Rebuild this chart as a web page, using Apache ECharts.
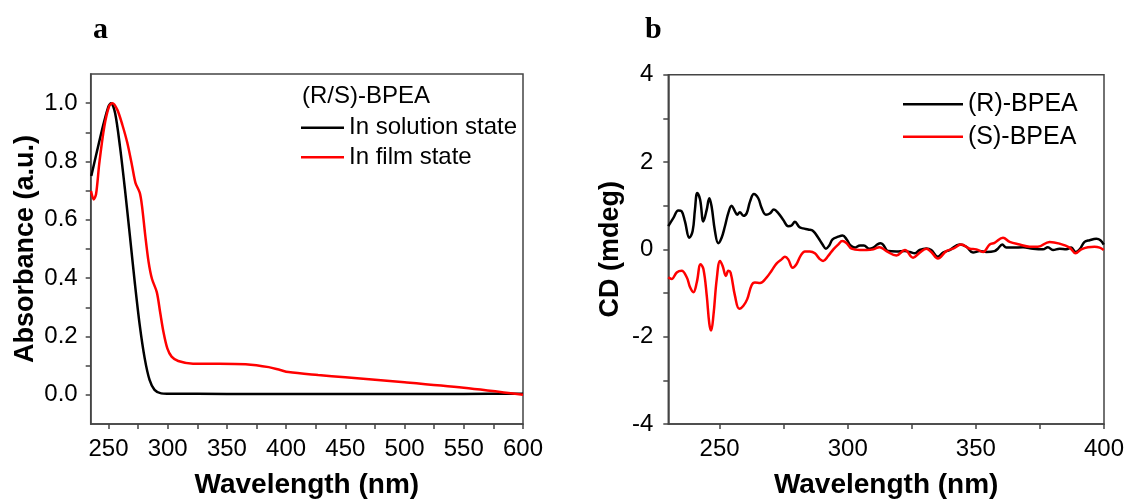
<!DOCTYPE html>
<html>
<head>
<meta charset="utf-8">
<script src="https://cdn.jsdelivr.net/npm/echarts@6/dist/echarts.min.js"></script>
<style>
html,body{margin:0;padding:0;background:#fff;}
#chart{width:1132px;height:504px;}
</style>
</head>
<body>
<div id="chart"></div>
<script>
// ---------- Panel a: absorbance ----------
var aSolX = [235.5,240.3,245.9,250.1,252.2,255.6,259.7,263.9,268.1,272.2,276.4,280.6,284.7,288.9,294.5,300,350,400,450,500,550,600];
var aSolY = [0.75,0.835,0.93,0.99,1.0,0.966,0.852,0.705,0.545,0.386,0.239,0.125,0.051,0.017,0.005,0.004,0.003,0.003,0.003,0.003,0.003,0.004];
var aFilmX = [235.3,237.5,239.5,242.3,246.5,250.6,253.4,257.5,261.7,265.9,270,272.8,276.4,278.3,281.1,283.9,286.7,290.8,293.6,296.4,299.7,303.3,308.9,321.4,343.6,365.8,385.3,395,402,427,450,500,550,600];
var aFilmY = [0.699,0.67,0.6875,0.795,0.92,0.99,1.0,0.977,0.926,0.864,0.784,0.727,0.693,0.648,0.545,0.455,0.398,0.352,0.284,0.216,0.159,0.131,0.116,0.107,0.107,0.105,0.095,0.085,0.078,0.068,0.060,0.043,0.024,0.0];
var aXLabels = [250,300,350,400,450,500,550,600];
var aXTicks = [250,275,300,325,350,375,400,425,450,475,500,525,550,575,600];
var aYLabels = [0,0.2,0.4,0.6,0.8,1.0];
var aYTicks = [0,0.1,0.2,0.3,0.4,0.5,0.6,0.7,0.8,0.9,1.0];

// ---------- Panel b: CD ----------
var bRX = [230.0,232.0,233.9,235.2,236.5,238.2,239.5,240.4,241.3,242.4,243.7,245.0,246.0,246.9,248.2,249.5,250.8,252.1,253.4,254.7,256.0,256.9,257.9,259.3,260.6,261.9,263.4,265.1,266.4,268.1,269.6,271.2,272.9,274.8,276.8,278.1,279.4,281.1,282.6,284.6,286.5,288.5,290.2,291.5,292.8,294.1,296.3,298.0,299.6,301.1,302.8,304.8,306.3,308.4,310.0,311.5,312.8,313.8,315.8,319.0,322.3,324.2,326.2,328.1,330.7,332.6,335.2,337.2,339.8,343.7,346.3,348.9,351.5,354.1,357.3,358.6,360.3,361.9,364.5,368.4,372.3,376.2,378.1,380.1,382.7,385.3,387.2,388.9,390.5,392.4,394.4,397.0,398.6,399.9];
var bRY = [0.53,0.72,0.89,0.87,0.64,0.265,0.42,0.91,1.29,1.14,0.64,0.91,1.17,0.98,0.42,0.14,0.265,0.53,0.83,1.0,0.87,0.795,0.85,0.77,0.83,1.1,1.27,1.17,0.95,0.795,0.82,0.91,0.83,0.68,0.53,0.545,0.63,0.51,0.48,0.455,0.42,0.265,0.11,0.015,0.09,0.227,0.29,0.32,0.227,0.09,0.04,0.09,0.09,0.015,0.04,0.11,0.14,0.11,-0.04,-0.05,-0.04,-0.06,-0.09,-0.015,0.02,-0.015,-0.17,-0.075,-0.015,0.11,0.06,-0.075,-0.04,-0.06,-0.04,0.015,0.11,0.04,0.04,0.05,0.015,0.0,0.05,-0.015,0.015,0.0,0.04,-0.06,0.0,0.17,0.21,0.24,0.21,0.11];
var bSX = [230.0,231.3,233.3,235.2,237.2,238.5,239.8,241.1,242.6,243.7,245.0,246.0,246.7,247.6,248.9,250.2,251.2,252.5,253.4,254.3,256.0,257.7,259.3,260.8,262.5,263.8,265.8,268.4,270.3,272.3,274.2,275.5,276.8,278.5,280.0,281.6,283.3,285.2,287.2,288.9,290.4,292.4,294.4,296.3,297.9,299.6,301.5,304.8,307.4,310.0,312.4,315.1,319.0,322.3,325.5,328.1,330.7,332.6,335.2,338.5,341.1,344.3,347.6,350.2,352.8,355.4,357.3,360.6,363.2,367.1,371.0,374.2,378.8,382.7,386.6,388.9,391.1,393.7,396.3,398.3,399.9];
var bSY = [-0.64,-0.68,-0.53,-0.49,-0.64,-0.87,-0.98,-0.76,-0.34,-0.45,-1.06,-1.70,-1.86,-1.52,-0.68,-0.265,-0.38,-0.61,-0.49,-0.53,-1.06,-1.36,-1.29,-1.14,-0.82,-0.76,-0.77,-0.64,-0.49,-0.32,-0.23,-0.17,-0.23,-0.42,-0.34,-0.15,-0.05,-0.05,-0.09,-0.21,-0.265,-0.15,0.0,0.11,0.19,0.14,0.015,-0.015,-0.015,0.0,0.05,-0.04,-0.14,-0.015,-0.19,-0.075,0.015,-0.06,-0.21,-0.04,0.015,0.11,0.015,0.0,-0.06,0.11,0.15,0.265,0.17,0.11,0.06,0.06,0.17,0.13,0.04,-0.09,0.0,0.05,0.06,0.04,-0.015];
var bXLabels = [250,300,350,400];
var bXTicks = [250,275,300,325,350,375,400];
var bYLabels = [-4,-2,0,2,4];
var bYTicks = [-4,-3,-2,-1,0,1,2,3,4];

function zip(xs, ys){ var o=[]; for(var i=0;i<xs.length;i++){o.push([xs[i],ys[i]]);} return o; }

var FONT = "'Liberation Sans', Arial, sans-serif";
var AX = '#444';

function xAxisCfg(idx, min, max, labels, ticks){
  return {
    type:'value', gridIndex: idx, min:min, max:max,
    name:'Wavelength (nm)', nameLocation:'middle', nameGap:47,
    nameTextStyle:{fontFamily:FONT, fontSize:28, fontWeight:'bold', color:'#000'},
    axisLine:{show:true, onZero:false, lineStyle:{color:AX, width:1.5}},
    axisTick:{show:true, inside:false, length:5, customValues:ticks, lineStyle:{color:AX, width:1.5}},
    axisLabel:{show:true, margin:13, customValues:labels, fontFamily:FONT, fontSize:24, color:'#000'},
    splitLine:{show:false}
  };
}
function yAxisCfg(idx, min, max, labels, ticks, name, gap, margin, fmt){
  return {
    type:'value', gridIndex: idx, min:min, max:max,
    name:name, nameLocation:'middle', nameGap:gap,
    nameTextStyle:{fontFamily:FONT, fontSize:27, fontWeight:'bold', color:'#000'},
    axisLine:{show:true, onZero:false, lineStyle:{color:AX, width:1.5}},
    axisTick:{show:true, inside:false, length:5, customValues:ticks, lineStyle:{color:AX, width:1.5}},
    axisLabel:{show:true, margin:margin, customValues:labels, fontFamily:FONT, fontSize:24, color:'#000', formatter:fmt},
    splitLine:{show:false}
  };
}

var option = {
  animation:false,
  backgroundColor:'#fff',
  title:[
    {text:'a', left:93, top:15, padding:0, textStyle:{fontFamily:"'Liberation Serif', 'Times New Roman', serif", fontSize:30, fontWeight:'bold', color:'#000', lineHeight:30}},
    {text:'b', left:645, top:15, padding:0, textStyle:{fontFamily:"'Liberation Serif', 'Times New Roman', serif", fontSize:30, fontWeight:'bold', color:'#000', lineHeight:30}},
    {text:'(R/S)-BPEA', left:302, top:84, padding:0, textStyle:{fontFamily:FONT, fontSize:24, fontWeight:'normal', color:'#000', lineHeight:24}}
  ],
  legend:[
    {data:['In solution state','In film state'], orient:'vertical', left:301, top:115.7, padding:0,
     icon:'rect', itemWidth:43, itemHeight:2.5, itemGap:5.6,
     textStyle:{fontFamily:FONT, fontSize:24, color:'#000', lineHeight:24}},
    {data:['(R)-BPEA','(S)-BPEA'], orient:'vertical', left:903, top:91.8, padding:0,
     icon:'rect', itemWidth:60, itemHeight:2.5, itemGap:7.4,
     textStyle:{fontFamily:FONT, fontSize:25, color:'#000', lineHeight:25}}
  ],
  grid:[
    {left:90.7, top:74, width:432.3, height:352, show:true, borderColor:AX, borderWidth:1.5, backgroundColor:'transparent', containLabel:false},
    {left:668.3, top:74.7, width:435.7, height:352, show:true, borderColor:AX, borderWidth:1.5, backgroundColor:'transparent', containLabel:false}
  ],
  xAxis:[
    xAxisCfg(0, 235, 600, aXLabels, aXTicks),
    xAxisCfg(1, 230, 400, bXLabels, bXTicks)
  ],
  yAxis:[
    yAxisCfg(0, -0.1, 1.1, aYLabels, aYTicks, 'Absorbance (a.u.)', 52, 13, function(v){return v.toFixed(1);}),
    yAxisCfg(1, -4, 4, bYLabels, bYTicks, 'CD (mdeg)', 44, 15, function(v){return String(v);})
  ],
  series:[
    {name:'In solution state', type:'line', xAxisIndex:0, yAxisIndex:0, data:zip(aSolX,aSolY), smooth:0.3, symbol:'none', lineStyle:{color:'#000', width:2.5}, itemStyle:{color:'#000'}},
    {name:'In film state', type:'line', xAxisIndex:0, yAxisIndex:0, data:zip(aFilmX,aFilmY), smooth:0.3, symbol:'none', lineStyle:{color:'#ff0000', width:2.5}, itemStyle:{color:'#ff0000'}},
    {name:'(R)-BPEA', type:'line', xAxisIndex:1, yAxisIndex:1, data:zip(bRX,bRY), smooth:0.4, symbol:'none', lineStyle:{color:'#000', width:2.5}, itemStyle:{color:'#000'}},
    {name:'(S)-BPEA', type:'line', xAxisIndex:1, yAxisIndex:1, data:zip(bSX,bSY), smooth:0.4, symbol:'none', lineStyle:{color:'#ff0000', width:2.5}, itemStyle:{color:'#ff0000'}}
  ]
};

var chart = echarts.init(document.getElementById('chart'), null, {renderer:'canvas'});
chart.setOption(option);
</script>
</body>
</html>
